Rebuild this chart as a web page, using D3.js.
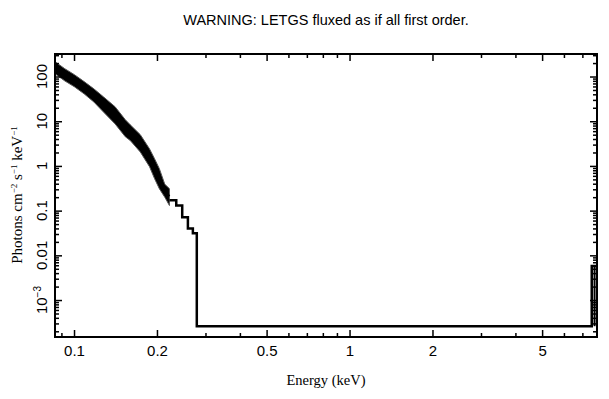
<!DOCTYPE html>
<html>
<head>
<meta charset="utf-8">
<script src="https://cdn.jsdelivr.net/npm/d3@7"></script>
<style>
  body { margin: 0; background: #fff; }
  svg { display: block; }
  .tick text { font-family: "Liberation Sans", Arial, sans-serif; font-size: 15px; fill: #000; }
</style>
</head>
<body>
<svg id="chart"></svg>
<script>
// data
var bandEnergy = [0.0853, 0.0925, 0.1003, 0.1088, 0.118, 0.128, 0.141, 0.1535, 0.160, 0.174, 0.188, 0.196, 0.204, 0.2135, 0.222];
var bandFlux   = [161, 110, 83, 56, 38, 24, 13.6, 7.7, 5.7, 3.2, 1.57, 0.89, 0.53, 0.29, 0.21];
var bandHigh   = [215, 150, 110, 77, 53, 35, 21, 10.8, 8.3, 5.0, 2.4, 1.45, 0.87, 0.39, 0.31];
var bandLow    = [115, 80, 59, 41, 27, 16, 8.7, 4.5, 3.7, 2.05, 0.96, 0.52, 0.31, 0.2, 0.13];

var stepEnergy = [0.222, 0.235, 0.247, 0.259, 0.270, 0.279, 7.57, 7.91];
var stepFlux   = [0.17, 0.13, 0.071, 0.040, 0.031, 2.6e-4, 5.8e-3, 5.8e-3];

var errEnergy = [7.75];
var errLow    = [2.6e-4];
var errHigh   = [5.8e-3];

var xTicks = [0.1, 0.2, 0.5, 1, 2, 5];
var xTickLabels = ["0.1", "0.2", "0.5", "1", "2", "5"];
var xMinor = [0.09, 0.3, 0.4, 0.6, 0.7, 0.8, 0.9, 3, 4, 6, 7];
var yTicks = [100, 10, 1, 0.1, 0.01, 0.001];
var yTickLabels = ["100", "10", "1", "0.1", "0.01", "10^-3"];

// basic settings
var width = 609, height = 399;
var mLeft = 55, mRight = 597, mTop = 54, mBottom = 337;

var svg = d3.select("#chart").attr("width", width).attr("height", height);

var x = d3.scaleLog().domain([0.0853, 7.91]).range([mLeft, mRight]);
var y = d3.scaleLog().domain([1.49e-4, 319]).range([mBottom, mTop]);

// minor y ticks 2..9 per decade
var yMinor = [];
[-4, -3, -2, -1, 0, 1, 2].forEach(function(p) {
  for (var k = 2; k <= 9; k++) {
    var v = k * Math.pow(10, p);
    if (v > y.domain()[0] && v < y.domain()[1]) yMinor.push(v);
  }
});

var band = bandEnergy.map(function(e, i) {
  return { e: e, f: bandFlux[i], hi: bandHigh[i], lo: bandLow[i] };
});
var steps = stepEnergy.map(function(e, i) { return { e: e, f: stepFlux[i] }; });

// error band (dense part of spectrum)
svg.append("path")
  .datum(band)
  .attr("fill", "#000")
  .attr("stroke", "#555")
  .attr("stroke-width", 1)
  .attr("d", d3.area()
    .x(function(d) { return x(d.e); })
    .y0(function(d) { return y(d.lo); })
    .y1(function(d) { return y(d.hi); }));

svg.append("path")
  .datum(band)
  .attr("fill", "none")
  .attr("stroke", "#000")
  .attr("stroke-width", 2)
  .attr("d", d3.line()
    .x(function(d) { return x(d.e); })
    .y(function(d) { return y(d.f); }));

// sparse steps
svg.append("path")
  .datum(steps)
  .attr("fill", "none")
  .attr("stroke", "#000")
  .attr("stroke-width", 2.5)
  .attr("d", d3.line()
    .x(function(d) { return x(d.e); })
    .y(function(d) { return y(d.f); })
    .curve(d3.curveStepAfter));

svg.selectAll(".err")
  .data(errEnergy)
  .enter().append("line")
  .attr("class", "err")
  .attr("x1", function(d) { return x(d); })
  .attr("x2", function(d) { return x(d); })
  .attr("y1", function(d, i) { return y(errLow[i]); })
  .attr("y2", function(d, i) { return y(errHigh[i]); })
  .attr("stroke", "#000")
  .attr("stroke-width", 2);

// axes with inward ticks on all four sides
function styleAxis(g) {
  g.select(".domain").remove();
  g.selectAll(".tick line").attr("stroke", "#000").attr("stroke-width", 1.5);
}

svg.append("g")
  .attr("transform", "translate(0," + mBottom + ")")
  .call(d3.axisBottom(x).tickValues(xTicks).tickSize(-7).tickPadding(8)
    .tickFormat(function(d, i) { return xTickLabels[i]; }))
  .call(styleAxis);
svg.append("g")
  .attr("transform", "translate(0," + mBottom + ")")
  .call(d3.axisBottom(x).tickValues(xMinor).tickSize(-4).tickFormat(""))
  .call(styleAxis);
svg.append("g")
  .attr("transform", "translate(0," + mTop + ")")
  .call(d3.axisTop(x).tickValues(xTicks).tickSize(-7).tickFormat(""))
  .call(styleAxis);
svg.append("g")
  .attr("transform", "translate(0," + mTop + ")")
  .call(d3.axisTop(x).tickValues(xMinor).tickSize(-4).tickFormat(""))
  .call(styleAxis);

svg.append("g")
  .attr("transform", "translate(" + mLeft + ",0)")
  .call(d3.axisLeft(y).tickValues(yTicks).tickSize(-7).tickFormat(""))
  .call(styleAxis);
svg.append("g")
  .attr("transform", "translate(" + mLeft + ",0)")
  .call(d3.axisLeft(y).tickValues(yMinor).tickSize(-4).tickFormat(""))
  .call(styleAxis);
svg.append("g")
  .attr("transform", "translate(" + mRight + ",0)")
  .call(d3.axisRight(y).tickValues(yTicks).tickSize(-7).tickFormat(""))
  .call(styleAxis);
svg.append("g")
  .attr("transform", "translate(" + mRight + ",0)")
  .call(d3.axisRight(y).tickValues(yMinor).tickSize(-4).tickFormat(""))
  .call(styleAxis);

// rotated y tick labels
var yl = svg.selectAll(".ylab")
  .data(yTicks)
  .enter().append("text")
  .attr("class", "ylab")
  .attr("transform", function(d) { return "translate(47," + y(d) + ") rotate(-90)"; })
  .attr("text-anchor", "middle")
  .style("font-family", "'Liberation Sans', Arial, sans-serif")
  .style("font-size", "15px");
yl.each(function(d, i) {
  var t = d3.select(this);
  var lab = yTickLabels[i];
  if (lab.indexOf("^") >= 0) {
    var parts = lab.split("^");
    t.append("tspan").text(parts[0]);
    t.append("tspan").attr("dy", -6).style("font-size", "10px").text(parts[1].replace("-", "\u2212"));
  } else {
    t.text(lab);
  }
});

// frame
svg.append("rect")
  .attr("x", mLeft).attr("y", mTop)
  .attr("width", mRight - mLeft).attr("height", mBottom - mTop)
  .attr("fill", "none").attr("stroke", "#000").attr("stroke-width", 2);

// title
svg.append("text")
  .attr("x", 326).attr("y", 25)
  .attr("text-anchor", "middle")
  .style("font-family", "'Liberation Sans', Arial, sans-serif")
  .style("font-size", "14.5px")
  .text("WARNING: LETGS fluxed as if all first order.");

// axis titles
svg.append("text")
  .attr("x", 326).attr("y", 385)
  .attr("text-anchor", "middle")
  .style("font-family", "'Liberation Serif', 'Times New Roman', serif")
  .style("font-size", "14.5px")
  .text("Energy (keV)");

var ylabel = svg.append("text")
  .attr("transform", "translate(22,195) rotate(-90)")
  .attr("text-anchor", "middle")
  .style("font-family", "'Liberation Serif', 'Times New Roman', serif")
  .style("font-size", "15px");
ylabel.append("tspan").text("Photons cm");
ylabel.append("tspan").attr("dy", -5).style("font-size", "9px").text("\u22122");
ylabel.append("tspan").attr("dy", 5).text(" s");
ylabel.append("tspan").attr("dy", -5).style("font-size", "9px").text("\u22121");
ylabel.append("tspan").attr("dy", 5).text(" keV");
ylabel.append("tspan").attr("dy", -5).style("font-size", "9px").text("\u22121");
</script>
</body>
</html>
